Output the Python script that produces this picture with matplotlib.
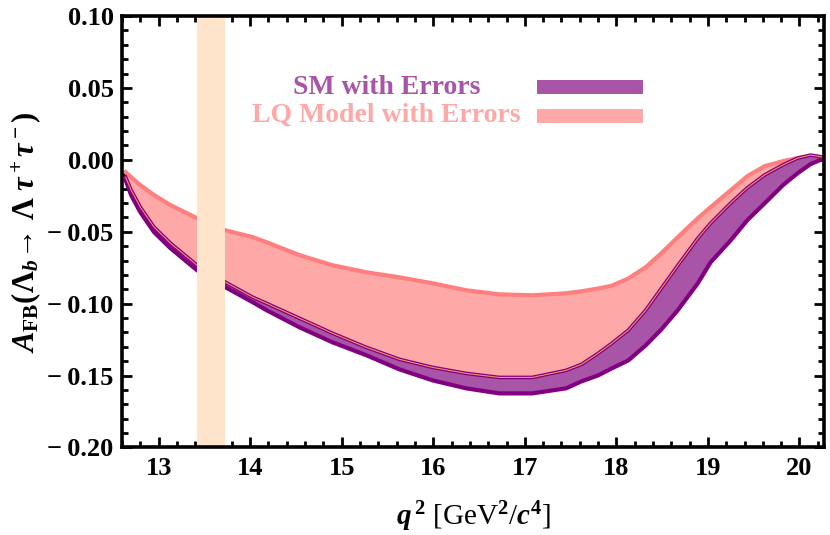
import matplotlib
matplotlib.use('Agg')
import matplotlib.pyplot as plt
from matplotlib.patches import Rectangle
from matplotlib.ticker import MultipleLocator, FuncFormatter

# Valeurs : q^2 [GeV^2/c^4]
q2 = [12.64, 12.70, 12.80, 12.95, 13.13, 13.42, 13.73, 14.03, 14.18, 14.54,
      14.90, 15.27, 15.63, 15.99, 16.36, 16.72, 17.08, 17.45, 17.62, 17.80,
      17.95, 18.13, 18.32, 18.49, 18.67, 18.89, 19.03, 19.25, 19.43, 19.62,
      19.82, 19.98, 20.12, 20.25]

# Modèle LQ : bord supérieur (le bord inférieur coïncide avec le haut du SM)
lq_upper = [-0.0086, -0.0121, -0.0176, -0.0245, -0.0315, -0.0406, -0.049, -0.0538, -0.0573, -0.0663,
            -0.0733, -0.0782, -0.0817, -0.0858, -0.0907, -0.0935, -0.0942, -0.0928, -0.0914, -0.0895,
            -0.0875, -0.0825, -0.0747, -0.065, -0.0538, -0.0406, -0.0329, -0.0211, -0.0114, -0.0044,
            -0.0009, 0.0012, 0.0026, 0.0019]

# SM avec erreurs : bords supérieur et inférieur
sm_upper = [-0.0121, -0.0211, -0.0329, -0.0468, -0.058, -0.0733, -0.0851, -0.0956, -0.0998, -0.1102,
            -0.1206, -0.1304, -0.1387, -0.1443, -0.1485, -0.1513, -0.1513, -0.1464, -0.1422, -0.1346,
            -0.1276, -0.1185, -0.1046, -0.0895, -0.0735, -0.0545, -0.044, -0.030, -0.0195, -0.0105,
            -0.0035, 0.0012, 0.0033, 0.0019]
sm_lower = [-0.0142, -0.0246, -0.0364, -0.0503, -0.0615, -0.0768, -0.0886, -0.0991, -0.1046, -0.1165,
            -0.1269, -0.1359, -0.1457, -0.1533, -0.1589, -0.1624, -0.1624, -0.1589, -0.154, -0.1499,
            -0.145, -0.1395, -0.129, -0.118, -0.1046, -0.0858, -0.0712, -0.0559, -0.042, -0.0302,
            -0.0176, -0.0093, -0.003, 0.0005]

band_x = (13.42, 13.72)

plt.rcParams['font.family'] = ['Liberation Serif', 'DejaVu Serif']
plt.rcParams['font.weight'] = 'bold'
plt.rcParams['mathtext.fontset'] = 'custom'
plt.rcParams['mathtext.rm'] = 'Liberation Serif:bold'
plt.rcParams['mathtext.it'] = 'Liberation Serif:bold:italic'
plt.rcParams['mathtext.bf'] = 'Liberation Serif:bold'

fig = plt.figure(figsize=(8.3, 5.35), dpi=100)
ax = fig.add_axes([0.147, 0.1636, 0.846, 0.8065])

# bande LQ
ax.fill_between(q2, sm_upper, lq_upper, color='#FFA8A8', lw=0, zorder=2)
ax.plot(q2, lq_upper, color='#FF7F7F', lw=3, zorder=3)

# bande SM
ax.fill_between(q2, sm_lower, sm_upper, color='#A855A8', lw=0, zorder=4)
ax.plot(q2, sm_lower, color='#800080', lw=3, zorder=5)
ax.plot(q2, sm_upper, color='#800080', lw=2.6, zorder=5)
ax.plot(q2, sm_upper, color='#FF8C69', lw=0.8, zorder=6)

# bande verticale (par-dessus les courbes)
ax.axvspan(band_x[0], band_x[1], color='#FFE4CC', zorder=8, lw=0)

ax.set_xlim(12.6, 20.27)
ax.set_ylim(-0.20, 0.10)
ax.xaxis.set_major_locator(MultipleLocator(1))
ax.xaxis.set_minor_locator(MultipleLocator(0.2))
ax.yaxis.set_major_locator(MultipleLocator(0.05))
ax.yaxis.set_minor_locator(MultipleLocator(0.01))
ax.yaxis.set_major_formatter(FuncFormatter(
    lambda v, p: ('\u2212\u2009' if v < -1e-9 else '') + f'{abs(v):.2f}'))

ax.tick_params(which='both', direction='in', top=True, right=True, width=2, labelsize=19)
ax.tick_params(which='major', length=7)
ax.tick_params(which='minor', length=4)
ax.tick_params(axis='x', pad=7)
ax.tick_params(axis='y', pad=6)
for s in ax.spines.values():
    s.set_linewidth(2.6)
    s.set_zorder(10)

ax.set_xlabel(r'$q^{\,2}$ [GeV$^2$/$c^4$]', fontsize=21, labelpad=14)
ax.set_ylabel(r'$A_{\mathrm{FB}}(\Lambda_b\!\rightarrow\,\Lambda\;\tau^+\tau^-)$', fontsize=22, labelpad=3)

# légende
ax.text(0.510, 0.835, 'SM with Errors', transform=ax.transAxes, ha='right', va='center',
        color='#A855A8', fontsize=20, fontweight='bold', zorder=9)
ax.text(0.567, 0.770, 'LQ Model with Errors', transform=ax.transAxes, ha='right', va='center',
        color='#FFA8A8', fontsize=20, fontweight='bold', zorder=9)
ax.add_patch(Rectangle((0.591, 0.819), 0.151, 0.0324, transform=ax.transAxes,
                       color='#A855A8', lw=0, zorder=9))
ax.add_patch(Rectangle((0.591, 0.752), 0.151, 0.0324, transform=ax.transAxes,
                       color='#FFA8A8', lw=0, zorder=9))

plt.savefig('out.png', dpi=100)
